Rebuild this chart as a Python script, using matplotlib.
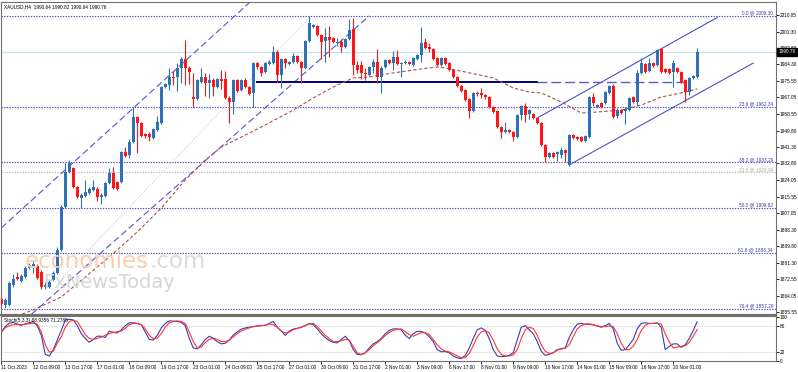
import numpy as np
import matplotlib.pyplot as plt
from matplotlib.transforms import blended_transform_factory

plt.rcParams['font.family'] = ['Liberation Sans', 'DejaVu Sans']

# XAUUSD H4 candles, 11 Oct 2023 01:00 .. 21 Nov 2023 01:00
opens = [1862.4, 1859.2, 1859.2, 1869.6, 1873.8, 1871.7, 1873.8, 1878.5, 1879.5, 1879.5,
         1876.4, 1868.6, 1868.6, 1872.2, 1875.9, 1887.8, 1910.2, 1928.3, 1930.4, 1920.5,
         1914.8, 1915.9, 1917.4, 1919.0, 1919.5, 1915.4, 1915.9, 1922.6, 1927.8, 1923.1,
         1923.1, 1938.7, 1937.2, 1943.9, 1956.9, 1953.8, 1948.1, 1948.1, 1946.0, 1950.2,
         1953.8, 1972.5, 1973.5, 1977.7, 1977.7, 1982.4, 1987.0, 1982.4, 1967.3, 1966.3,
         1975.1, 1977.7, 1974.6, 1976.1, 1972.5, 1976.6, 1976.6, 1966.8, 1964.7, 1976.1,
         1970.9, 1976.1, 1972.5, 1969.4, 1985.0, 1982.9, 1980.3, 1984.5, 1985.0, 1990.7,
         1978.7, 1987.0, 1984.5, 1985.5, 1988.6, 1985.5, 1982.4, 1996.4, 2003.7, 2004.2,
         1999.5, 1996.4, 1998.5, 1998.0, 1995.4, 1995.9, 1993.3, 1997.4, 2002.6, 1983.9,
         1983.9, 1979.8, 1978.7, 1982.9, 1985.5, 1977.7, 1982.9, 1986.5, 1985.0, 1988.1,
         1984.5, 1985.0, 1985.5, 1983.9, 1987.0, 1989.1, 1995.9, 1993.3, 1992.2, 1987.6,
         1983.9, 1987.6, 1985.0, 1981.3, 1977.7, 1973.0, 1970.9, 1966.3, 1960.0, 1969.4,
         1969.4, 1968.3, 1967.3, 1962.1, 1960.0, 1951.7, 1949.1, 1950.2, 1949.1, 1946.5,
         1957.9, 1962.6, 1958.5, 1958.5, 1956.4, 1953.8, 1942.4, 1936.1, 1938.2, 1937.7,
         1937.2, 1939.8, 1932.0, 1947.6, 1946.5, 1946.5, 1944.4, 1946.5, 1967.3, 1962.1,
         1964.2, 1964.2, 1969.4, 1973.0, 1957.4, 1960.5, 1960.0, 1960.5, 1967.3, 1964.7,
         1979.8, 1984.5, 1980.8, 1985.0, 1983.9, 1992.2, 1981.8, 1981.8, 1980.3, 1982.4,
         1980.3, 1976.1, 1969.9, 1977.2, 1977.7]
highs = [1863.5, 1863.0, 1871.5, 1875.5, 1876.4, 1875.3, 1879.5, 1881.0, 1882.1, 1880.5,
         1877.4, 1871.0, 1872.0, 1876.9, 1889.3, 1911.0, 1933.0, 1934.5, 1931.0, 1921.0,
         1917.4, 1924.2, 1920.5, 1924.2, 1920.5, 1917.4, 1923.1, 1930.4, 1931.0, 1923.6,
         1939.2, 1941.4, 1945.5, 1962.1, 1957.4, 1954.3, 1948.6, 1949.1, 1951.2, 1957.4,
         1973.0, 1974.6, 1982.4, 1981.0, 1985.0, 1988.0, 1996.9, 1983.4, 1979.8, 1976.6,
         1982.4, 1979.8, 1979.3, 1977.2, 1977.2, 1981.3, 1980.8, 1967.8, 1976.6, 1976.6,
         1976.6, 1977.2, 1973.0, 1985.5, 1985.5, 1983.4, 1985.5, 1986.5, 1993.8, 1991.7,
         1987.6, 1987.6, 1986.0, 1990.2, 1989.1, 1986.0, 1996.9, 2009.3, 2005.2, 2004.7,
         2000.0, 2003.2, 2004.0, 1998.5, 1998.0, 1997.4, 1998.0, 2007.8, 2008.3, 1986.0,
         1986.0, 1982.4, 1983.4, 1987.0, 1992.2, 1983.4, 1987.0, 1987.0, 1991.2, 1991.5,
         1985.5, 1986.5, 1986.0, 1988.1, 1989.6, 2003.7, 1998.0, 1995.4, 1992.8, 1988.1,
         1988.1, 1988.1, 1985.5, 1981.8, 1978.2, 1973.5, 1971.4, 1966.8, 1969.9, 1970.4,
         1972.0, 1968.9, 1967.8, 1962.6, 1960.5, 1952.2, 1954.3, 1950.7, 1949.6, 1958.5,
         1963.1, 1964.2, 1961.0, 1959.0, 1956.9, 1954.3, 1942.9, 1938.7, 1938.7, 1939.2,
         1941.3, 1940.3, 1948.1, 1948.1, 1947.0, 1947.0, 1947.6, 1967.8, 1969.4, 1963.7,
         1964.7, 1970.4, 1973.5, 1974.1, 1961.6, 1961.0, 1962.1, 1967.3, 1967.8, 1981.3,
         1987.6, 1985.0, 1987.6, 1985.5, 1992.2, 1992.7, 1982.4, 1982.4, 1986.5, 1982.9,
         1980.8, 1976.6, 1977.7, 1978.7, 1992.8]
lows = [1858.5, 1857.5, 1858.5, 1868.6, 1872.2, 1871.0, 1873.3, 1877.9, 1875.9, 1872.8,
        1867.6, 1867.5, 1868.0, 1871.7, 1875.4, 1887.3, 1909.5, 1927.8, 1920.0, 1914.8,
        1909.6, 1915.4, 1916.9, 1918.5, 1913.3, 1911.7, 1915.4, 1922.1, 1919.5, 1919.0,
        1922.6, 1936.1, 1935.5, 1943.4, 1938.2, 1946.5, 1946.0, 1944.5, 1945.5, 1949.6,
        1953.3, 1972.0, 1970.9, 1973.5, 1970.4, 1974.6, 1973.5, 1974.3, 1962.1, 1965.7,
        1974.6, 1967.8, 1966.8, 1967.8, 1972.0, 1971.4, 1966.3, 1953.8, 1958.5, 1969.9,
        1970.4, 1972.0, 1968.3, 1962.1, 1982.0, 1978.2, 1979.8, 1984.0, 1984.5, 1975.1,
        1972.0, 1982.4, 1984.0, 1985.0, 1985.0, 1974.6, 1981.9, 1995.9, 2003.2, 1999.0,
        1987.0, 1985.5, 1988.0, 1995.4, 1993.8, 1990.7, 1992.8, 1996.9, 1978.7, 1979.8,
        1976.6, 1976.1, 1978.2, 1979.8, 1974.6, 1969.4, 1982.4, 1984.5, 1981.3, 1984.0,
        1977.7, 1984.5, 1984.0, 1983.4, 1986.5, 1985.5, 1992.2, 1990.7, 1986.5, 1983.4,
        1983.4, 1984.0, 1980.8, 1977.2, 1972.5, 1969.9, 1965.2, 1956.4, 1959.5, 1967.8,
        1966.8, 1966.3, 1961.6, 1959.0, 1951.2, 1946.0, 1948.6, 1948.6, 1944.4, 1946.0,
        1955.4, 1954.3, 1955.9, 1955.9, 1953.3, 1941.9, 1933.5, 1935.6, 1935.6, 1934.0,
        1935.6, 1933.5, 1931.5, 1945.5, 1945.0, 1944.0, 1943.9, 1946.0, 1962.6, 1961.6,
        1961.6, 1963.7, 1968.9, 1956.4, 1956.4, 1958.5, 1953.3, 1960.0, 1964.2, 1963.1,
        1979.3, 1979.8, 1980.3, 1982.9, 1983.4, 1979.8, 1979.8, 1979.3, 1972.5, 1979.8,
        1974.6, 1964.7, 1968.3, 1976.6, 1977.2]
closes = [1859.8, 1861.8, 1870.7, 1872.8, 1872.8, 1874.3, 1878.5, 1880.0, 1880.5, 1873.3,
          1868.6, 1869.6, 1871.2, 1875.9, 1887.8, 1910.2, 1928.3, 1933.0, 1920.5, 1915.4,
          1916.4, 1917.9, 1919.5, 1920.5, 1915.4, 1916.4, 1922.6, 1927.8, 1920.0, 1919.5,
          1938.7, 1936.6, 1943.9, 1956.9, 1953.8, 1947.0, 1947.0, 1946.5, 1950.7, 1954.3,
          1972.5, 1974.1, 1977.7, 1977.2, 1982.4, 1987.0, 1982.4, 1980.3, 1966.3, 1976.1,
          1977.7, 1974.6, 1976.1, 1972.5, 1976.6, 1975.6, 1966.8, 1964.7, 1976.1, 1970.4,
          1976.1, 1972.5, 1968.9, 1985.0, 1982.9, 1979.8, 1985.0, 1985.5, 1990.7, 1978.7,
          1987.0, 1985.0, 1985.5, 1988.6, 1985.5, 1982.4, 1996.4, 2005.7, 2004.7, 1999.5,
          1995.9, 1998.5, 1996.9, 1995.9, 1995.9, 1993.3, 1997.4, 2002.1, 1983.9, 1981.3,
          1979.8, 1979.3, 1982.9, 1985.5, 1977.7, 1982.4, 1986.5, 1985.0, 1988.1, 1984.5,
          1985.0, 1985.5, 1984.5, 1987.6, 1989.1, 1995.4, 1992.8, 1992.2, 1987.0, 1983.9,
          1987.6, 1984.5, 1981.3, 1977.7, 1973.0, 1970.4, 1965.7, 1960.0, 1969.4, 1968.9,
          1968.3, 1967.3, 1962.1, 1959.5, 1951.7, 1949.1, 1950.2, 1949.1, 1946.5, 1957.9,
          1962.6, 1957.9, 1960.5, 1956.4, 1953.8, 1942.4, 1936.1, 1938.2, 1936.1, 1938.7,
          1939.8, 1938.2, 1947.6, 1946.0, 1945.5, 1944.4, 1947.0, 1967.3, 1964.2, 1963.1,
          1962.1, 1969.9, 1973.0, 1956.9, 1960.5, 1959.0, 1961.1, 1966.8, 1964.7, 1979.8,
          1985.0, 1980.3, 1985.0, 1983.4, 1991.7, 1980.3, 1980.3, 1979.8, 1985.0, 1980.3,
          1975.1, 1969.9, 1977.2, 1978.2, 1990.76]

# Stochastic (5,3,3): %K main line and %D signal line
stoch_k = [64.5, 77.7, 85.8, 87.2, 83.6, 80.7, 83.6, 86.5, 89.4, 79.9,
           57.9, 14.1, 10.5, 25.1, 47.0, 69.0, 92.3, 94.6, 93.0, 79.9,
           61.6, 50.6, 41.9, 48.4, 55.7, 55.7, 52.8, 67.5, 64.5, 63.1,
           70.4, 79.9, 86.5, 86.5, 85.0, 82.1, 65.3, 48.4, 47.0, 57.9,
           74.8, 85.0, 90.9, 90.2, 89.4, 87.2, 79.9, 50.6, 28.8, 26.6,
           36.1, 48.4, 55.7, 50.6, 43.3, 38.2, 39.7, 47.0, 58.7, 65.3,
           71.9, 74.8, 76.3, 77.7, 79.2, 79.9, 80.7, 85.0, 89.4, 76.3,
           67.5, 57.9, 67.5, 71.9, 73.9, 76.3, 79.9, 85.0, 82.1, 72.6,
           61.6, 52.8, 45.5, 41.9, 40.4, 48.4, 55.7, 45.5, 25.1, 14.1,
           13.4, 17.8, 28.8, 38.2, 43.3, 50.6, 61.6, 69.0, 72.6, 72.6,
           70.4, 57.9, 50.6, 61.6, 66.8, 66.8, 63.1, 54.3, 43.3, 25.1,
           20.0, 20.7, 17.8, 10.5, 6.1, 4.6, 11.9, 28.8, 50.6, 70.4,
           74.8, 69.0, 50.6, 25.1, 10.5, 9.0, 9.7, 11.9, 17.8, 47.0,
           76.3, 79.9, 70.4, 61.6, 43.3, 21.4, 11.9, 14.1, 17.8, 25.1,
           27.3, 28.8, 52.8, 70.4, 83.6, 85.0, 82.8, 83.6, 82.1, 79.2,
           76.3, 79.9, 85.0, 72.6, 39.7, 23.6, 25.1, 36.1, 48.4, 72.6,
           85.0, 86.5, 85.0, 85.0, 86.5, 76.3, 25.1, 32.4, 38.2, 38.2,
           30.2, 36.1, 50.6, 69.0, 88.9]
stoch_d = [65.3, 74.8, 79.9, 82.1, 82.1, 82.1, 83.6, 84.3, 85.0, 83.6,
           65.3, 36.1, 19.2, 21.4, 39.7, 54.3, 76.3, 89.4, 92.3, 89.4,
           74.8, 59.4, 50.6, 48.4, 50.6, 53.5, 57.9, 61.6, 64.5, 66.0,
           67.5, 73.9, 82.1, 85.0, 85.0, 82.1, 72.6, 57.9, 49.9, 51.4,
           61.6, 76.3, 86.5, 89.4, 90.9, 89.4, 85.0, 65.3, 43.3, 28.8,
           31.0, 41.2, 48.4, 51.4, 48.4, 43.3, 43.3, 47.0, 54.3, 61.6,
           67.5, 71.9, 74.8, 77.7, 79.2, 79.9, 80.7, 83.6, 82.1, 76.3,
           67.5, 63.1, 65.3, 70.4, 73.3, 76.3, 80.7, 83.6, 85.0, 77.7,
           67.5, 57.9, 50.6, 43.3, 43.3, 45.5, 48.4, 47.0, 32.4, 17.8,
           14.1, 17.8, 25.1, 33.9, 41.2, 48.4, 57.2, 64.5, 69.0, 71.1,
           72.6, 66.0, 59.4, 55.7, 60.1, 63.8, 63.8, 59.4, 48.4, 36.1,
           26.6, 21.4, 20.0, 15.6, 10.5, 6.1, 6.8, 16.3, 33.9, 54.3,
           65.3, 69.0, 63.1, 47.0, 26.6, 14.1, 10.5, 10.5, 12.7, 25.1,
           50.6, 70.4, 76.3, 73.3, 57.9, 36.1, 21.4, 16.3, 17.8, 23.6,
           26.6, 28.0, 36.1, 54.3, 72.6, 79.9, 83.6, 83.6, 81.4, 79.2,
           77.7, 77.7, 79.2, 77.7, 61.6, 39.7, 25.1, 25.1, 32.4, 48.4,
           69.0, 80.7, 85.0, 85.0, 85.0, 83.6, 61.6, 43.3, 28.8, 31.0,
           32.4, 33.9, 41.2, 55.7, 71.3]

# dashed moving average, sampled at these bars
ma_bars = [0, 8, 15, 21, 27, 34, 40, 46, 51, 55, 60, 65, 73, 78, 83, 88, 92,
           98, 105, 109, 111, 116, 123, 128, 132, 135, 140, 145, 149, 155, 160,
           165, 170, 174]
ma_vals = [1850.4, 1856.7, 1863.4, 1873.8, 1884.2, 1897.2, 1909.6, 1924.2,
           1934.6, 1941.3, 1946.5, 1951.7, 1960.5, 1966.8, 1972.5, 1977.2,
           1977.7, 1979.8, 1981.9, 1982.9, 1982.4, 1980.3, 1977.2, 1972.0,
           1969.9, 1969.4, 1964.7, 1959.0, 1959.5, 1960.5, 1963.1, 1967.3,
           1969.4, 1971.5]

# drawn objects (bar index, price)
big_upper_bars, big_upper_px = [0, 66], [1899.3, 2023.8]
big_lower_bars, big_lower_px = [0, 92], [1840.6, 2009.4]
mid_line_bars, mid_line_px = [15, 77], [1872.8, 2008.5]
small_upper_bars, small_upper_px = [134, 179], [1956.4, 2008.6]
small_lower_bars, small_lower_px = [142, 188], [1932.0, 1984.9]
support_price = 1975.1
support_bars = [64, 134]
support_ext_bars = [134, 171.5]

fib_names = ['0.0', '23.6', '38.2', '50.0', '61.8', '76.4']
fib_prices = [2009.30, 1962.34, 1933.29, 1909.82, 1886.34, 1857.29]
fib2_name, fib2_price = '23.6', 1928.09
last_price = 1990.76

price_ticks = [2010.05, 2001.30, 1992.80, 1984.30, 1975.55, 1967.05, 1958.55,
               1949.80, 1941.30, 1932.80, 1924.05, 1915.55, 1907.05, 1898.30,
               1889.80, 1881.30, 1872.55, 1864.05, 1855.55]
time_labels = ['11 Oct 2023', '12 Oct 09:00', '13 Oct 17:00', '17 Oct 01:00',
               '18 Oct 09:00', '19 Oct 17:00', '23 Oct 01:00', '24 Oct 09:00',
               '25 Oct 17:00', '27 Oct 01:00', '30 Oct 09:00', '31 Oct 17:00',
               '2 Nov 01:00', '3 Nov 09:00', '6 Nov 17:00', '8 Nov 01:00',
               '9 Nov 09:00', '10 Nov 17:00', '14 Nov 01:00', '15 Nov 09:00',
               '16 Nov 17:00', '20 Nov 01:00']

W, H = 798, 372
FS = 3.4
fig = plt.figure(figsize=(W / 100, H / 100), dpi=100)
ax = fig.add_axes([1 / W, 57 / H, 775 / W, 313 / H])
sax = fig.add_axes([1 / W, 11 / H, 775 / W, 45 / H])

o = np.array(opens); c = np.array(closes)
hi = np.array(highs); lo = np.array(lows)
x = np.arange(len(c))
up_col, dn_col = '#2F72B4', '#FF1515'
cols = np.where(c >= o, up_col, dn_col)

# horizontal levels first (behind candles)
ax.axhline(last_price, color='#BFE6EC', lw=0.9, zorder=1)
tr = blended_transform_factory(ax.transAxes, ax.transData)
for name, p in zip(fib_names, fib_prices):
    ax.axhline(p, color='#4B4BC0', lw=0.8, ls=(0, (1.2, 1.2)), zorder=1)
    ax.text(0.996, p + 0.3, f'{name} @ {p:.2f}', transform=tr, ha='right',
            va='bottom', fontsize=FS, color='#3A3AB0')
ax.axhline(fib2_price, color='#BDBDBD', lw=0.8, ls=(0, (1.2, 1.2)), zorder=1)
ax.text(0.996, fib2_price + 0.3, f'{fib2_name} @ {fib2_price:.2f}', transform=tr,
        ha='right', va='bottom', fontsize=FS, color='#B0B0B0')

# trend channels and lines
ax.plot(big_upper_bars, big_upper_px, color='#5555C8', lw=0.8, ls=(0, (6, 3)), zorder=2)
ax.plot(big_lower_bars, big_lower_px, color='#5555C8', lw=0.8, ls=(0, (6, 3)), zorder=2)
ax.plot(mid_line_bars, mid_line_px, color='#DCCCDC', lw=0.7, ls=(0, (1.5, 1.5)), zorder=2)
ax.plot(small_upper_bars, small_upper_px, color='#5050C4', lw=0.8, zorder=2)
ax.plot(small_lower_bars, small_lower_px, color='#5050C4', lw=0.8, zorder=2)
ax.plot(support_bars, [support_price] * 2, color='#000080', lw=1.4, zorder=2)
ax.plot(support_ext_bars, [support_price] * 2, color='#5A5AD2', lw=1.0,
        ls=(0, (7, 3)), zorder=2)
ax.plot(ma_bars, ma_vals, color='#A8524C', lw=0.8, ls=(0, (3, 2)), zorder=2)

# candles
ax.vlines(x, lo, hi, colors=cols, lw=0.8, zorder=3)
ax.bar(x, np.maximum(np.abs(c - o), 0.5), bottom=np.minimum(o, c), width=0.72,
       color=cols, lw=0, zorder=4)

ax.set_xlim(-0.075, 193.7)
ax.set_ylim(1854.05, 2016.65)
ax.yaxis.tick_right()
ax.set_yticks(price_ticks)
ax.set_yticklabels([f'{p:.2f}' for p in price_ticks], fontsize=FS)
ax.tick_params(axis='y', length=2, width=0.6, pad=0.8, colors='black')
ax.set_xticks([])
for s in ax.spines.values():
    s.set_color('#707070'); s.set_linewidth(0.8)
ax.spines['bottom'].set_linewidth(1.6)

# current price box
ax.text(1.003, last_price, f'{last_price:.2f}', transform=tr, ha='left', va='center',
        fontsize=FS, color='white',
        bbox=dict(boxstyle='square,pad=0.3', fc='black', ec='black'))
ax.text(0.004, 0.992, 'XAUUSD,H4  1990.64 1990.82 1990.64 1990.76',
        transform=ax.transAxes, ha='left', va='top', fontsize=FS)

# watermark
t1 = fig.text(25 / W, 1 - 268 / H, 'economies', fontsize=16.5, color='#F8CFB0',
              family='DejaVu Sans', va='baseline', zorder=0)
ax.annotate('.com', xy=(1, 0), xycoords=t1, xytext=(0, 0),
            textcoords='offset points', fontsize=16.5, color='#DCDCDC',
            family='DejaVu Sans', ha='left', va='bottom', zorder=0,
            annotation_clip=False)
fig.text(43 / W, 1 - 288 / H, 'FxNewsToday', fontsize=14, color='#D6D6D6',
         family='DejaVu Sans', va='baseline', zorder=0)

# stochastic panel
sax.axhline(80, color='#C8C8C8', lw=0.6, ls=(0, (1.5, 1.5)))
sax.axhline(20, color='#C8C8C8', lw=0.6, ls=(0, (1.5, 1.5)))
sax.plot(x, stoch_k, color='#3C3CB0', lw=0.8)
sax.plot(x, stoch_d, color='#FF3535', lw=0.8)
sax.set_xlim(-0.075, 193.7)
sax.set_ylim(-1, 102)
sax.yaxis.tick_right()
sax.set_yticks([100, 80, 20, 0])
sax.set_yticklabels(['100', '80', '20', '0'], fontsize=FS)
sax.tick_params(axis='y', length=2, width=0.6, pad=0.8)
sax.set_xticks(x[::8][:len(time_labels)])
sax.set_xticklabels(time_labels, fontsize=FS, ha='left')
sax.tick_params(axis='x', length=2, width=0.6, pad=1)
for s in sax.spines.values():
    s.set_color('#707070'); s.set_linewidth(0.8)
sax.text(0.004, 0.96, 'Stoch(5,3,3) 88.9356 71.2785', transform=sax.transAxes,
         ha='left', va='top', fontsize=FS)

fig.savefig('out.png', dpi=100, facecolor='white')
